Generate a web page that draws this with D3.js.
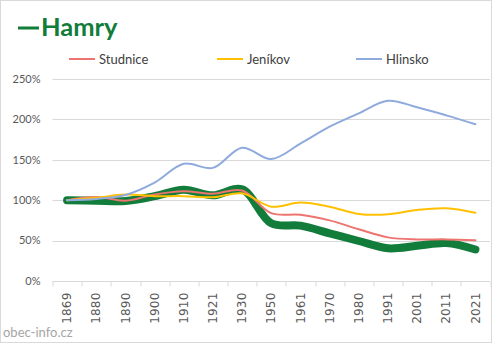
<!DOCTYPE html>
<html>
<head>
<meta charset="utf-8">
<script src="https://cdn.jsdelivr.net/npm/d3@7"></script>
<style>
  body { margin: 0; background: #fff; }
  svg { display: block; font-family: Lato, "Liberation Sans", sans-serif; }
</style>
</head>
<body>
<svg id="chart"></svg>
<script>
// census years
var years = ['1869', '1880', '1890', '1900', '1910', '1921', '1930', '1950', '1961', '1970', '1980', '1991', '2001', '2011', '2021']

// population relative to 1869, in %
var hamry    = [100, 99.4, 99, 105, 113, 106, 113.5, 71.5, 68.5, 59, 49.5, 40.5, 43.5, 47, 39]
var studnice = [100, 104, 99.4, 107, 111, 108, 112, 84, 82, 75, 64, 54, 51.5, 51.5, 50.5]
var jenikov  = [100, 103, 107, 105, 105, 103.6, 108.5, 92, 97, 92, 83, 82.5, 88, 90, 84.5]
var hlinsko  = [100, 101.5, 106.4, 121.7, 145, 140, 165, 151, 170, 191, 207.5, 223, 215, 205, 194]

var yTicks = [0, 50, 100, 150, 200, 250]

var series = [
  {name: 'Hamry', values: hamry, color: '#127c3a', width: 8},
  {name: 'Studnice', values: studnice, color: '#ee7470', width: 2},
  {name: 'Jeníkov', values: jenikov, color: '#ffc000', width: 2},
  {name: 'Hlinsko', values: hlinsko, color: '#8faadc', width: 2}
]

var W = 492, H = 343
var margin = {top: 79, right: 2, bottom: 62, left: 52.5}
var width = W - margin.left - margin.right
var height = H - margin.top - margin.bottom

var svg = d3.select('#chart')
    .attr('width', W)
    .attr('height', H)

// outer border
svg.append('rect')
    .attr('x', 0.5).attr('y', 0.5)
    .attr('width', W - 1).attr('height', H - 1)
    .attr('fill', '#fff')
    .attr('stroke', '#d9d9d9')

// title: long dash + name
svg.append('line')
    .attr('x1', 18).attr('x2', 39)
    .attr('y1', 28).attr('y2', 28)
    .attr('stroke', '#127c3a')
    .attr('stroke-width', 3)
svg.append('text')
    .attr('x', 41).attr('y', 36)
    .attr('fill', '#127c3a')
    .attr('font-size', 25.5)
    .attr('font-weight', 'bold')
    .text('Hamry')

var x = d3.scaleBand()
    .domain(years)
    .range([0, width])

var y = d3.scaleLinear()
    .domain([0, 250])
    .range([height, 0])

var g = svg.append('g')
    .attr('transform', 'translate(' + margin.left + ',' + margin.top + ')')

// gridlines
g.selectAll('.grid')
    .data(yTicks.slice(1))
  .enter().append('line')
    .attr('x1', 0).attr('x2', width)
    .attr('y1', function (d) { return Math.round(y(d)) + 0.5 })
    .attr('y2', function (d) { return Math.round(y(d)) + 0.5 })
    .attr('stroke', '#d9d9d9')

// y labels
g.selectAll('.ylab')
    .data(yTicks)
  .enter().append('text')
    .attr('x', -12)
    .attr('y', function (d) { return y(d) })
    .attr('dy', '0.35em')
    .attr('text-anchor', 'end')
    .attr('fill', '#595959')
    .attr('font-size', 11)
    .text(function (d) { return d + '%' })

// x axis
var xAxis = g.append('g')
    .attr('transform', 'translate(0,' + (Math.round(height) + 0.5) + ')')
xAxis.append('line')
    .attr('x1', 0).attr('x2', width)
    .attr('stroke', '#d9d9d9')
xAxis.selectAll('.tick')
    .data(years.concat(['end']))
  .enter().append('line')
    .attr('x1', function (d, i) { return Math.round(i * x.step()) + 0.5 })
    .attr('x2', function (d, i) { return Math.round(i * x.step()) + 0.5 })
    .attr('y1', 0).attr('y2', 5)
    .attr('stroke', '#d9d9d9')
xAxis.selectAll('.xlab')
    .data(years)
  .enter().append('text')
    .attr('transform', function (d) {
      return 'translate(' + (x(d) + x.bandwidth() / 2) + ',11) rotate(-90)'
    })
    .attr('text-anchor', 'end')
    .attr('dy', '0.35em')
    .attr('fill', '#595959')
    .attr('font-size', 12)
    .attr('font-family', '"DejaVu Sans", sans-serif')
    .attr('letter-spacing', '0.2')
    .text(function (d) { return d })

// lines
var line = d3.line()
    .x(function (d, i) { return x(years[i]) + x.bandwidth() / 2 })
    .y(function (d) { return y(d) })
    .curve(d3.curveCatmullRom.alpha(0.5))

g.selectAll('.series')
    .data(series)
  .enter().append('path')
    .attr('d', function (d) { return line(d.values) })
    .attr('fill', 'none')
    .attr('stroke', function (d) { return d.color })
    .attr('stroke-width', function (d) { return d.width })
    .attr('stroke-linecap', 'round')
    .attr('stroke-linejoin', 'round')

// legend
var legendX = [69, 217, 356]
var legend = svg.selectAll('.legend')
    .data(series.slice(1))
  .enter().append('g')
    .attr('transform', function (d, i) { return 'translate(' + legendX[i] + ',59)' })
legend.append('line')
    .attr('x1', 0).attr('x2', 26)
    .attr('stroke', function (d) { return d.color })
    .attr('stroke-width', 2)
legend.append('text')
    .attr('x', 30)
    .attr('dy', '0.35em')
    .attr('fill', '#404040')
    .attr('font-size', 13)
    .text(function (d) { return d.name })

// watermark
svg.append('text')
    .attr('x', 3).attr('y', 337)
    .attr('fill', '#a6a6a6')
    .attr('font-size', 13)
    .text('obec-info.cz')
</script>
</body>
</html>
